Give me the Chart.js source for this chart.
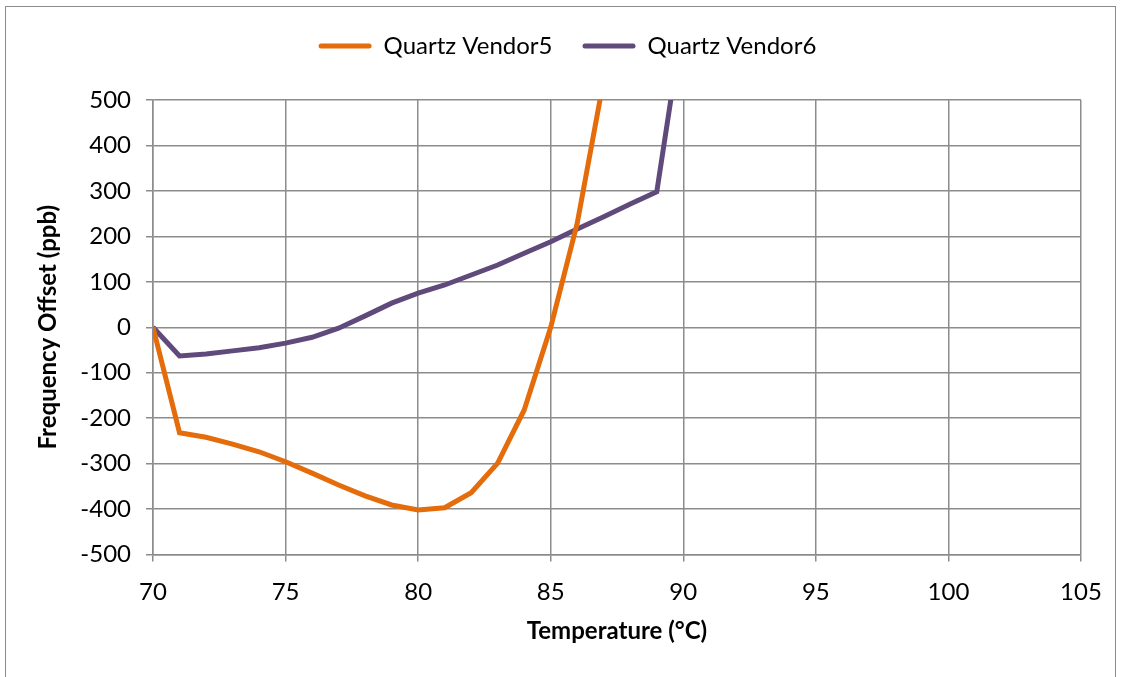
<!DOCTYPE html>
<html>
<head>
<meta charset="utf-8">
<title>Quartz vendors</title>
<script src="https://cdn.jsdelivr.net/npm/chart.js@4.4.1/dist/chart.umd.min.js"></script>
<style>
  html, body { margin: 0; padding: 0; background: #fff; overflow: hidden; }
  #wrap { position: relative; width: 1123px; height: 677px; }
  #frame { position: absolute; left: 5px; top: 6px; width: 1111px; height: 700px; border: 1px solid #8c8c8c; box-sizing: border-box; }
  canvas { position: absolute; left: 0; top: 0; }
</style>
</head>
<body>
<div id="wrap">
  <div id="frame"></div>
  <canvas id="grafica" width="1123" height="677"></canvas>
</div>
<script>
// datos
const temperaturas = [70, 71, 72, 73, 74, 75, 76, 77, 78, 79, 80, 81, 82, 83, 84, 85, 86, 87, 88, 89, 90];
const vendor5 = [0, -232, -242, -257, -274, -296, -321, -347, -371, -391, -402, -397, -364, -299, -182, 0, 229, 545];
const vendor6 = [0, -63, -59, -52, -45, -35, -22, -2, 25, 53, 75, 93, 115, 137, 163, 188, 216, 243, 271, 298, 680];
const ticksX = [70, 75, 80, 85, 90, 95, 100, 105];
const ticksY = [-500, -400, -300, -200, -100, 0, 100, 200, 300, 400, 500];

const FUENTE = 'Lato, "Open Sans", sans-serif';
const GRIS = '#8c8c8c';

function puntos(valores) {
  return valores.map((v, i) => ({ x: temperaturas[i], y: v }));
}

// espacio extra debajo de la leyenda y leyenda algo corrida a la derecha
const espacioLeyenda = {
  id: 'espacioLeyenda',
  beforeLayout(chart) {
    const leyenda = chart.legend;
    if (!leyenda || leyenda._parcheado) return;
    const fitOriginal = leyenda.fit;
    leyenda.fit = function () {
      fitOriginal.call(this);
      this.height = 96;
      this.lineWidths = this.lineWidths.map(w => w - 54);
    };
    leyenda._parcheado = true;
  }
};

const ctx = document.getElementById('grafica').getContext('2d');

new Chart(ctx, {
  type: 'line',
  data: {
    datasets: [{
      label: 'Quartz Vendor5',
      data: puntos(vendor5),
      borderColor: '#E46C0A',
      backgroundColor: '#E46C0A',
      borderWidth: 5,
      pointRadius: 0,
      tension: 0
    }, {
      label: 'Quartz Vendor6',
      data: puntos(vendor6),
      borderColor: '#604A7B',
      backgroundColor: '#604A7B',
      borderWidth: 5,
      pointRadius: 0,
      tension: 0
    }]
  },
  options: {
    responsive: false,
    animation: false,
    layout: { padding: { top: 4, right: 42, left: 0, bottom: 0 } },
    plugins: {
      tooltip: { enabled: false },
      legend: {
        position: 'top',
        labels: {
          boxWidth: 53,
          boxHeight: 5,
          padding: 30,
          color: '#000',
          font: { family: FUENTE, size: 24 },
          useBorderRadius: true,
          borderRadius: 2.5,
          generateLabels(chart) {
            return Chart.defaults.plugins.legend.labels.generateLabels(chart)
              .map(item => Object.assign(item, { lineWidth: 0 }));
          }
        }
      }
    },
    scales: {
      x: {
        type: 'linear',
        min: 70,
        max: 105,
        afterBuildTicks(scale) { scale.ticks = ticksX.map(v => ({ value: v })); },
        afterFit(scale) { scale.height = 122.5; },
        grid: { color: GRIS, lineWidth: 1.5, tickLength: 7, drawTicks: true },
        border: { color: GRIS, width: 1.5 },
        ticks: { color: '#000', font: { family: FUENTE, size: 24 }, padding: 16, maxRotation: 0 },
        title: {
          display: true,
          text: 'Temperature (°C)',
          color: '#000',
          font: { family: FUENTE, size: 24, weight: 'bold' },
          padding: { top: 31, bottom: 31 }
        }
      },
      y: {
        min: -500,
        max: 500,
        afterBuildTicks(scale) { scale.ticks = ticksY.map(v => ({ value: v })); },
        afterFit(scale) { scale.width = 153; },
        grid: { color: GRIS, lineWidth: 1.5, tickLength: 7, drawTicks: true },
        border: { color: GRIS, width: 1.5 },
        ticks: { color: '#000', font: { family: FUENTE, size: 24 }, padding: 15 },
        title: {
          display: true,
          text: 'Frequency Offset (ppb)',
          color: '#000',
          font: { family: FUENTE, size: 24, weight: 'bold' },
          padding: { top: 34, bottom: 34 }
        }
      }
    }
  },
  plugins: [espacioLeyenda]
});
</script>
</body>
</html>
